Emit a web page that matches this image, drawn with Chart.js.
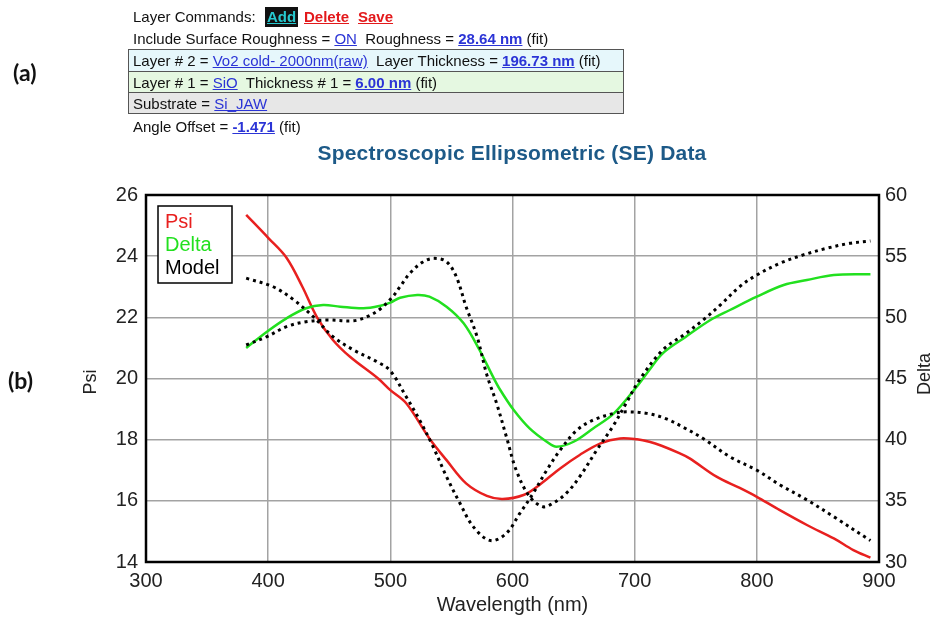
<!DOCTYPE html>
<html>
<head>
<meta charset="utf-8">
<script src="https://cdn.jsdelivr.net/npm/chart.js@4.4.1/dist/chart.umd.min.js"></script>
<style>
  html, body { margin:0; padding:0; background:#fff; width:939px; height:618px; overflow:hidden; }
  body { position:relative; font-family:'Liberation Sans', Arial, sans-serif; color:#111; }
  #c { position:absolute; left:0; top:0; }
  .t { position:absolute; font-size:15px; line-height:18px; white-space:nowrap; }
  .lk { color:#2b34d6; text-decoration:underline; }
  .b { font-weight:bold; }
  .red { color:#e3191b; font-weight:bold; text-decoration:underline; }
  .add { background:#111; color:#27c9cf; font-weight:bold; text-decoration:underline; padding:1px 2px; }
  #box { position:absolute; left:128px; top:49px; width:494px; border:1px solid #555; }
  #box .row { height:21px; line-height:21px; font-size:15px; padding-left:4px; white-space:nowrap; border-top:1px solid #555; box-sizing:border-box; }
  #box .row:first-child { border-top:none; }
  .lab { position:absolute; font-family:Lato, 'Open Sans', sans-serif; font-weight:bold; font-size:23px; color:#111; }
  #title { position:absolute; left:0; width:1024px; top:141px; text-align:center; font-size:21px; font-weight:bold; color:#1d5a88; letter-spacing:0.2px; }
</style>
</head>
<body>
<canvas id="c" width="939" height="618"></canvas>

<div class="lab" style="left:13px; top:58px;">(a)</div>
<div class="lab" style="left:8px; top:366px;">(b)</div>

<div class="t" style="left:133px; top:8px;">Layer Commands:</div>
<div class="t add" style="left:265px; top:7px;">Add</div>
<div class="t red" style="left:304px; top:8px;">Delete</div>
<div class="t red" style="left:358px; top:8px;">Save</div>

<div class="t" style="left:133px; top:30px;">Include Surface Roughness = <span class="lk">ON</span>&nbsp; Roughness = <span class="lk b">28.64 nm</span> (fit)</div>

<div id="box">
  <div class="row" style="background:#e6f7fb;">Layer # 2 = <span class="lk">Vo2 cold- 2000nm(raw)</span>&nbsp; Layer Thickness = <span class="lk b">196.73 nm</span> (fit)</div>
  <div class="row" style="background:#e5f8e1;">Layer # 1 = <span class="lk">SiO</span>&nbsp; Thickness # 1 = <span class="lk b">6.00 nm</span> (fit)</div>
  <div class="row" style="background:#e7e7e7;">Substrate = <span class="lk">Si_JAW</span></div>
</div>

<div class="t" style="left:133px; top:118px;">Angle Offset = <span class="lk b">-1.471</span> (fit)</div>

<div id="title">Spectroscopic Ellipsometric (SE) Data</div>

<script>
// ---- Data (wavelength in nm) ----
const psiWl  = [382,400,415,428,440,453,467,490,500,513,532,546,562,579,592,609,622,639,655,672,688,702,712,722,737,745,767,786,800,816,841,863,879,893];
const psiVal = [25.35,24.6,23.95,23.0,22.0,21.26,20.71,20.0,19.62,19.19,18.04,17.33,16.57,16.16,16.06,16.19,16.52,17.06,17.5,17.88,18.04,18.01,17.93,17.8,17.55,17.39,16.79,16.42,16.13,15.76,15.21,14.77,14.39,14.14];

const deltaWl  = [382,399,415,431,445,459,478,492,500,508,522,532,546,560,573,584,590,601,614,628,636,650,666,683,703,712,723,742,762,778,800,822,841,863,893];
const deltaVal = [47.5,48.83,49.92,50.74,51.01,50.87,50.74,50.95,51.2,51.6,51.83,51.69,50.87,49.51,47.33,45.15,44.06,42.42,40.92,39.83,39.42,39.83,40.92,42.15,44.5,45.7,47.06,48.42,49.78,50.6,51.69,52.64,53.05,53.46,53.52];

const modelPsiWl  = [382,404,421,437,453,470,489,500,513,524,535,546,557,568,582,595,606,617,628,639,653,666,683,693,710,726,740,756,778,800,819,841,863,893];
const modelPsiVal = [23.28,23.0,22.57,22.02,21.37,20.93,20.55,20.25,19.4,18.64,17.77,16.79,15.92,15.15,14.7,14.94,15.59,16.25,17.0,17.66,18.32,18.64,18.86,18.91,18.86,18.68,18.4,18.04,17.44,17.0,16.52,16.03,15.48,14.7];

const modelDeltaWl  = [382,399,415,431,448,470,481,492,502,508,516,527,536,546,554,562,571,579,587,595,603,614,625,633,644,655,669,682,693,704,723,742,756,770,786,800,819,838,857,876,893];
const modelDeltaVal = [47.74,48.42,49.24,49.64,49.78,49.72,50.05,50.7,51.69,52.51,53.6,54.55,54.82,54.55,53.32,50.87,48.42,45.3,42.97,40.24,37.52,35.34,34.52,34.8,35.61,36.97,39.15,41.06,42.97,44.9,47.33,48.69,49.78,51.0,52.51,53.46,54.42,55.1,55.64,56.05,56.24];

const xTicks = [300,400,500,600,700,800,900];
const psiTicks = [14,16,18,20,22,24,26];
const deltaTicks = [30,35,40,45,50,55,60];

const legendNames = ['Psi','Delta','Model'];
const axisTitles = { x:'Wavelength (nm)', left:'Psi', right:'Delta' };

const pts = (xs, ys) => xs.map((x, i) => ({ x, y: ys[i] }));
const FONT = "'Liberation Sans', Arial, sans-serif";
const RED = '#e8201f', GREEN = '#22e01f', BLACK = '#000';

const decor = {
  id: 'decor',
  afterDraw(chart) {
    const { ctx, chartArea: a } = chart;
    ctx.save();
    // frame
    ctx.strokeStyle = '#000';
    ctx.lineWidth = 2.5;
    ctx.strokeRect(a.left, a.top, a.right - a.left, a.bottom - a.top);
    // legend
    const lx = a.left + 12, ly = a.top + 11;
    ctx.fillStyle = '#fff';
    ctx.fillRect(lx, ly, 74, 77);
    ctx.lineWidth = 1.5;
    ctx.strokeRect(lx, ly, 74, 77);
    ctx.font = '20px ' + FONT;
    ctx.textBaseline = 'middle';
    ctx.textAlign = 'left';
    const cols = [RED, GREEN, BLACK];
    legendNames.forEach((n, i) => {
      ctx.fillStyle = cols[i];
      ctx.fillText(n, lx + 7, ly + 16 + i * 23.3);
    });
    // axis titles
    ctx.fillStyle = '#222';
    ctx.font = '18px ' + FONT;
    ctx.textAlign = 'center';
    ctx.save();
    ctx.translate(91, 382);
    ctx.rotate(-Math.PI / 2);
    ctx.fillText(axisTitles.left, 0, 0);
    ctx.restore();
    ctx.save();
    ctx.translate(925, 374);
    ctx.rotate(-Math.PI / 2);
    ctx.fillText(axisTitles.right, 0, 0);
    ctx.restore();
    ctx.font = '20px ' + FONT;
    ctx.fillText(axisTitles.x, (a.left + a.right) / 2, 605);
    ctx.restore();
  }
};

const lineDs = (label, data, color, axis, dashed) => ({
  label, data, yAxisID: axis,
  borderColor: color, backgroundColor: color,
  borderWidth: dashed ? 3 : 2.5,
  borderDash: dashed ? [3, 4] : [],
  borderCapStyle: 'butt',
  borderJoinStyle: 'round',
  pointRadius: 0,
  tension: 0.35,
  fill: false
});

new Chart(document.getElementById('c'), {
  type: 'line',
  data: {
    datasets: [
      lineDs('Model Psi', pts(modelPsiWl, modelPsiVal), BLACK, 'yL', true),
      lineDs('Model Delta', pts(modelDeltaWl, modelDeltaVal), BLACK, 'yR', true),
      lineDs('Delta', pts(deltaWl, deltaVal), GREEN, 'yR', false),
      lineDs('Psi', pts(psiWl, psiVal), RED, 'yL', false)
    ]
  },
  options: {
    responsive: false,
    animation: false,
    devicePixelRatio: 1,
    layout: { padding: { left: 70, right: 0, top: 195, bottom: 0 } },
    plugins: { legend: { display: false }, tooltip: { enabled: false }, title: { display: false } },
    scales: {
      x: {
        type: 'linear', min: 300, max: 900,
        afterBuildTicks: s => { s.ticks = xTicks.map(v => ({ value: v })); },
        afterFit: s => { s.height = 56; },
        grid: { color: '#a3a3a3', lineWidth: 1.5, drawTicks: false },
        border: { display: false },
        ticks: { color: '#222', font: { family: FONT, size: 20 }, padding: 7, maxRotation: 0 }
      },
      yL: {
        type: 'linear', position: 'left', min: 14, max: 26,
        afterBuildTicks: s => { s.ticks = psiTicks.map(v => ({ value: v })); },
        afterFit: s => { s.width = 76; },
        grid: { color: '#a3a3a3', lineWidth: 1.5, drawTicks: false },
        border: { display: false },
        ticks: { color: '#222', font: { family: FONT, size: 20 }, padding: 8 }
      },
      yR: {
        type: 'linear', position: 'right', min: 30, max: 60,
        afterBuildTicks: s => { s.ticks = deltaTicks.map(v => ({ value: v })); },
        afterFit: s => { s.width = 60; },
        grid: { display: false, drawTicks: false },
        border: { display: false },
        ticks: { color: '#222', font: { family: FONT, size: 20 }, padding: 6 }
      }
    }
  },
  plugins: [decor]
});
</script>
</body>
</html>
